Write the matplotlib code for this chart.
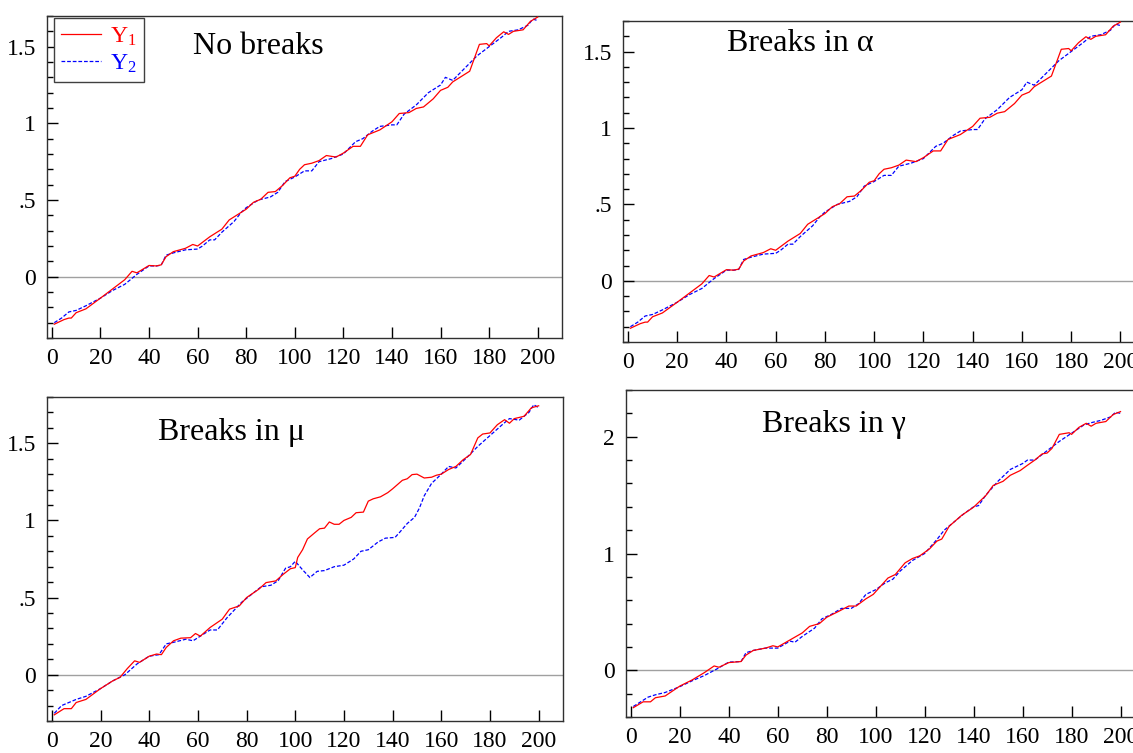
import matplotlib
matplotlib.use("Agg")
import matplotlib.pyplot as plt
from matplotlib.ticker import MultipleLocator, FuncFormatter

plt.rcParams['font.family'] = ['Liberation Serif', 'DejaVu Serif']
plt.rcParams['mathtext.fontset'] = 'stix'

# --- values ----------------------------------------------------------------
# No breaks (the "Breaks in alpha" panel looks the same, so it reuses these)
t_y1_nb = [1, 5, 7, 8, 10, 14, 20, 25, 30, 33, 35, 40, 43, 45, 47, 50, 55, 58, 60,
           65, 70, 73, 75, 80, 83, 86, 89, 92, 95, 98, 100, 102, 104, 107, 110, 113,
           117, 120, 124, 127, 130, 135, 140, 143, 147, 150, 153, 157, 160, 163, 165,
           168, 172, 176, 179, 180, 183, 186, 188, 190, 194, 197, 200]
y1_nb = [-0.31, -0.28, -0.27, -0.27, -0.235, -0.21, -0.14, -0.08, -0.02, 0.035, 0.025,
         0.073, 0.07, 0.077, 0.13, 0.163, 0.185, 0.21, 0.2, 0.26, 0.31, 0.37, 0.39, 0.44,
         0.485, 0.505, 0.55, 0.555, 0.595, 0.645, 0.655, 0.70, 0.73, 0.74, 0.757, 0.79,
         0.78, 0.806, 0.85, 0.85, 0.925, 0.957, 1.01, 1.064, 1.07, 1.097, 1.107, 1.16,
         1.215, 1.235, 1.27, 1.30, 1.34, 1.515, 1.52, 1.505, 1.558, 1.597, 1.58, 1.60,
         1.61, 1.665, 1.693]
t_y2_nb = [1, 4, 7, 10, 14, 20, 25, 30, 35, 40, 43, 45, 47, 50, 55, 60, 62, 65, 67, 70,
           75, 78, 80, 85, 90, 93, 96, 100, 104, 107, 110, 115, 120, 125, 128, 132, 135,
           140, 142, 145, 150, 155, 160, 162, 165, 170, 175, 180, 185, 188, 192, 196,
           198, 200]
y2_nb = [-0.30, -0.27, -0.23, -0.22, -0.19, -0.14, -0.09, -0.05, 0.015, 0.07, 0.07,
         0.075, 0.14, 0.155, 0.175, 0.18, 0.20, 0.24, 0.24, 0.29, 0.36, 0.42, 0.45, 0.50,
         0.52, 0.55, 0.62, 0.65, 0.69, 0.69, 0.75, 0.77, 0.80, 0.88, 0.90, 0.95, 0.98,
         0.99, 0.99, 1.06, 1.12, 1.20, 1.25, 1.30, 1.28, 1.36, 1.44, 1.50, 1.56, 1.60,
         1.61, 1.64, 1.68, 1.67]

# Breaks in mu
t_y1_mu = [1, 5, 8, 10, 14, 20, 25, 28, 31, 34, 36, 40, 43, 45, 47, 50, 53, 57, 59, 61,
           65, 70, 73, 77, 80, 85, 88, 92, 95, 98, 100, 101, 103, 105, 108, 110, 112,
           114, 116, 118, 120, 123, 125, 128, 130, 132, 135, 138, 140, 144, 146, 148,
           150, 153, 156, 158, 160, 163, 166, 169, 172, 175, 177, 180, 183, 186, 188,
           190, 194, 197, 200]
y1_mu = [-0.26, -0.22, -0.22, -0.18, -0.16, -0.09, -0.04, -0.017, 0.04, 0.09, 0.08,
         0.12, 0.134, 0.13, 0.177, 0.22, 0.237, 0.24, 0.267, 0.25, 0.306, 0.36, 0.425,
         0.446, 0.50, 0.554, 0.597, 0.608, 0.65, 0.687, 0.694, 0.76, 0.81, 0.88, 0.92,
         0.946, 0.95, 0.99, 0.975, 0.975, 1.0, 1.02, 1.05, 1.054, 1.125, 1.14, 1.153,
         1.18, 1.205, 1.26, 1.27, 1.297, 1.30, 1.275, 1.28, 1.293, 1.30, 1.33, 1.35,
         1.394, 1.427, 1.535, 1.56, 1.567, 1.62, 1.653, 1.63, 1.66, 1.675, 1.73, 1.743]
t_y2_mu = [1, 4, 7, 10, 14, 20, 25, 30, 35, 40, 44, 47, 50, 55, 58, 61, 65, 68, 72, 75,
           78, 82, 86, 90, 93, 96, 98, 100, 103, 106, 109, 112, 116, 120, 124, 127, 130,
           134, 137, 141, 143, 146, 149, 151, 153, 156, 160, 163, 166, 170, 175, 180,
           185, 188, 192, 196, 198, 200]
y2_mu = [-0.25, -0.20, -0.18, -0.16, -0.14, -0.09, -0.04, 0.0, 0.07, 0.12, 0.13, 0.20,
         0.21, 0.23, 0.22, 0.25, 0.29, 0.29, 0.37, 0.42, 0.47, 0.52, 0.57, 0.58, 0.61,
         0.69, 0.70, 0.735, 0.68, 0.63, 0.67, 0.675, 0.70, 0.71, 0.75, 0.80, 0.81, 0.86,
         0.885, 0.89, 0.925, 0.98, 1.02, 1.08, 1.16, 1.24, 1.30, 1.35, 1.34, 1.40, 1.48,
         1.55, 1.62, 1.66, 1.65, 1.70, 1.75, 1.73]

# Breaks in gamma
t_y1_ga = [1, 5, 8, 10, 14, 20, 25, 30, 34, 36, 40, 45, 47, 50, 55, 58, 60, 65, 70, 73,
           77, 80, 85, 89, 92, 96, 99, 102, 105, 108, 112, 115, 118, 122, 125, 127, 130,
           135, 140, 145, 148, 152, 155, 159, 162, 165, 168, 170, 172, 175, 179, 180,
           183, 186, 188, 190, 194, 197, 200]
y1_ga = [-0.32, -0.27, -0.27, -0.235, -0.22, -0.135, -0.083, -0.02, 0.037, 0.026, 0.066,
         0.075, 0.13, 0.17, 0.19, 0.21, 0.20, 0.26, 0.32, 0.376, 0.40, 0.454, 0.506, 0.55,
         0.55, 0.612, 0.65, 0.72, 0.79, 0.82, 0.92, 0.957, 0.98, 1.04, 1.106, 1.124,
         1.233, 1.325, 1.397, 1.497, 1.583, 1.618, 1.67, 1.71, 1.756, 1.80, 1.853, 1.86,
         1.90, 2.02, 2.034, 2.02, 2.08, 2.115, 2.09, 2.115, 2.13, 2.19, 2.215]
t_y2_ga = [1, 4, 7, 10, 14, 20, 25, 30, 35, 40, 45, 47, 50, 55, 60, 65, 67, 70, 75, 78,
           82, 86, 90, 93, 96, 100, 104, 107, 110, 115, 120, 125, 128, 132, 136, 140,
           142, 145, 150, 155, 160, 162, 165, 170, 175, 180, 185, 188, 192, 196, 198, 200]
y2_ga = [-0.31, -0.27, -0.23, -0.21, -0.19, -0.14, -0.09, -0.045, 0.01, 0.07, 0.075,
         0.15, 0.17, 0.19, 0.19, 0.25, 0.24, 0.29, 0.36, 0.44, 0.48, 0.53, 0.53, 0.57,
         0.65, 0.69, 0.75, 0.78, 0.85, 0.94, 1.00, 1.12, 1.20, 1.27, 1.34, 1.40, 1.41,
         1.50, 1.62, 1.72, 1.77, 1.80, 1.80, 1.88, 1.96, 2.03, 2.10, 2.12, 2.14, 2.17,
         2.21, 2.20]

titles = ["No breaks", "Breaks in \u03b1", "Breaks in \u03bc", "Breaks in \u03b3"]


def fmt(v, pos):
    s = f"{v:g}"
    if s.startswith("0."):
        s = s[1:]
    return s


fig = plt.figure(figsize=(11.33, 7.53), dpi=100)
W, H = 1133, 753


def make_ax(l, t, r, b):
    return fig.add_axes([l / W, 1 - b / H, (r - l) / W, (b - t) / H])


axes = [make_ax(47, 16, 562, 338), make_ax(623, 21, 1145, 342),
        make_ax(47, 397, 563, 721), make_ax(626, 390, 1145, 717)]

panels = [(t_y1_nb, y1_nb, t_y2_nb, y2_nb, (-0.40, 1.70), 0.5, 0.1),
          (t_y1_nb, y1_nb, t_y2_nb, y2_nb, (-0.40, 1.70), 0.5, 0.1),
          (t_y1_mu, y1_mu, t_y2_mu, y2_mu, (-0.30, 1.80), 0.5, 0.1),
          (t_y1_ga, y1_ga, t_y2_ga, y2_ga, (-0.40, 2.40), 1.0, 0.2)]
title_pos = [(0.41, 0.905), (0.34, 0.93), (0.357, 0.89), (0.40, 0.896)]

for i, ax in enumerate(axes):
    t1, v1, t2, v2, ylim, major, minor = panels[i]
    ax.axhline(0, color="#a0a0a0", lw=1.0, zorder=1)
    ax.plot(t1, v1, color="red", lw=0.9, label="$\\mathregular{Y_1}$", zorder=3)
    ax.plot(t2, v2, color="blue", lw=0.9, ls=(0, (3, 1.5)),
            label="$\\mathregular{Y_2}$", zorder=2)
    ax.set_xlim(-2, 210)
    ax.set_ylim(*ylim)
    ax.xaxis.set_major_locator(MultipleLocator(20))
    ax.yaxis.set_major_locator(MultipleLocator(major))
    ax.yaxis.set_minor_locator(MultipleLocator(minor))
    ax.yaxis.set_major_formatter(FuncFormatter(fmt))
    ax.tick_params(direction="in", which="major", length=8, width=1,
                   labelsize=17, colors="black", pad=8)
    ax.tick_params(direction="in", which="minor", length=4, width=1)
    ax.tick_params(axis="x", pad=7)
    for sp in ax.spines.values():
        sp.set_color("#303030")
        sp.set_linewidth(1.0)
    ax.text(title_pos[i][0], title_pos[i][1], titles[i], transform=ax.transAxes,
            ha="center", va="center", fontsize=23)

leg = axes[0].legend(loc="upper left", bbox_to_anchor=(0.013, 0.993),
                     fontsize=17, handlelength=1.7, borderpad=0.3,
                     labelspacing=0.2, handletextpad=0.4, fancybox=False,
                     framealpha=1, borderaxespad=0)
leg.get_frame().set_edgecolor("#404040")
leg.get_frame().set_linewidth(1.0)
for txt, c in zip(leg.get_texts(), ["red", "blue"]):
    txt.set_color(c)

fig.savefig("out.png", dpi=100)
